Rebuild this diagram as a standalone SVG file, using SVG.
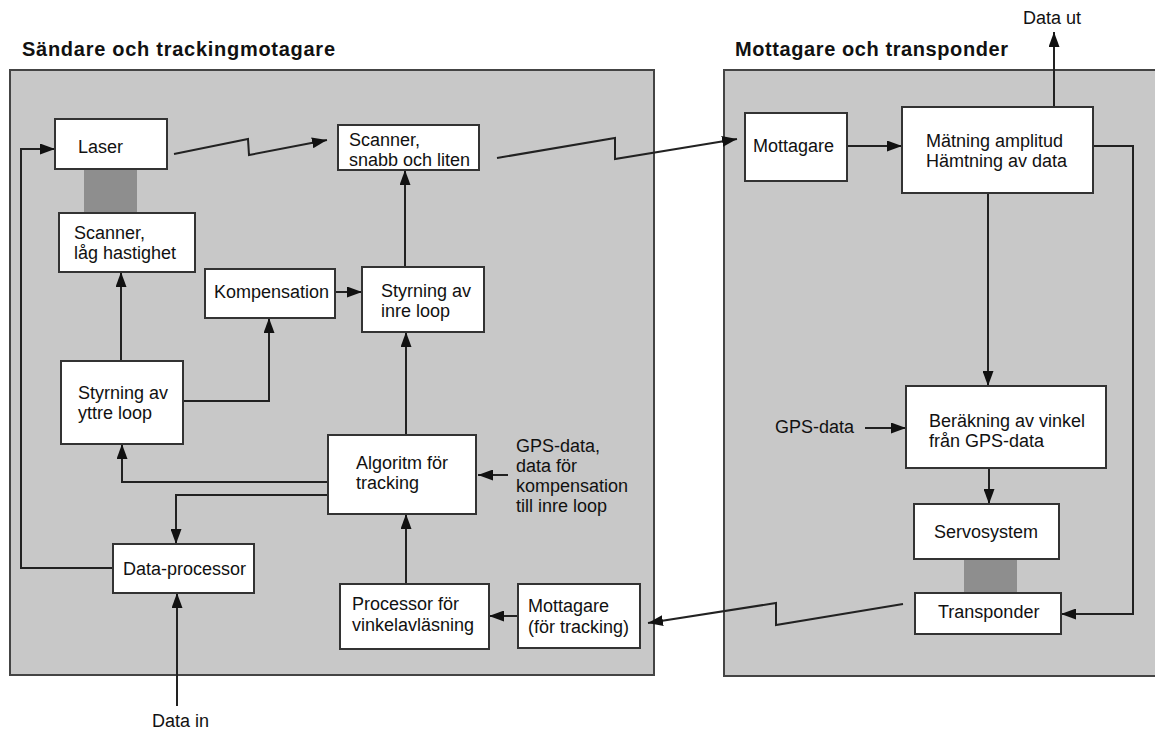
<svg xmlns="http://www.w3.org/2000/svg" width="1155" height="731" viewBox="0 0 1155 731">
<style>
.panel{fill:#c8c8c8;stroke:#444;stroke-width:2}
.box{fill:#fff;stroke:#333;stroke-width:2}
.bar{fill:#8e8e8e}
.t{font-family:"Liberation Sans",Arial,sans-serif;font-size:18px;fill:#111}
.h{font-family:"Liberation Sans",Arial,sans-serif;font-size:20px;font-weight:bold;fill:#111}
.c{fill:none;stroke:#222;stroke-width:2}
</style>
<defs>
<marker id="ah" markerUnits="userSpaceOnUse" markerWidth="15" markerHeight="11" refX="15" refY="5.5" orient="auto">
<path d="M0,0 L15,5.5 L0,11 z" fill="#111"/>
</marker>
</defs>
<rect width="1155" height="731" fill="#fff"/>
<g id="panel-left">
<rect class="panel" x="10" y="70" width="644" height="605"/>
<text class="h" x="22" y="56" textLength="313" lengthAdjust="spacing">Sändare och trackingmotagare</text>
</g>
<g id="panel-right">
<rect class="panel" x="724" y="70" width="440" height="606"/>
<text class="h" x="735" y="56" textLength="273" lengthAdjust="spacing">Mottagare och transponder</text>
</g>
<g id="bars">
<rect class="bar" x="84" y="170" width="53" height="43"/>
<rect class="bar" x="964" y="560" width="53" height="33"/>
</g>
<g id="connectors">
<polyline class="c" points="113,568 21,568 21,149 55,149" marker-end="url(#ah)"/>
<polyline class="c" points="121,361 121,272" marker-end="url(#ah)"/>
<polyline class="c" points="183,401 269,401 269,318" marker-end="url(#ah)"/>
<polyline class="c" points="335,292 362,292" marker-end="url(#ah)"/>
<polyline class="c" points="405,267 405,170" marker-end="url(#ah)"/>
<polyline class="c" points="406,435 406,332" marker-end="url(#ah)"/>
<polyline class="c" points="328,482 122,482 122,444" marker-end="url(#ah)"/>
<polyline class="c" points="328,495 176,495 176,544" marker-end="url(#ah)"/>
<polyline class="c" points="406,584 406,514" marker-end="url(#ah)"/>
<polyline class="c" points="518,616 489,616" marker-end="url(#ah)"/>
<polyline class="c" points="508,475 478,475" marker-end="url(#ah)"/>
<polyline class="c" points="177,706 177,593" marker-end="url(#ah)"/>
<polyline class="c" points="174,154 248,139 249,155 327,140" marker-end="url(#ah)"/>
<polyline class="c" points="497,158 615,138 615,159 737,139" marker-end="url(#ah)"/>
<polyline class="c" points="847,146 902,146" marker-end="url(#ah)"/>
<polyline class="c" points="1054,107 1054,32" marker-end="url(#ah)"/>
<polyline class="c" points="1093,146 1133,146 1133,614 1061,614" marker-end="url(#ah)"/>
<polyline class="c" points="988,193 988,386" marker-end="url(#ah)"/>
<polyline class="c" points="865,428 906,428" marker-end="url(#ah)"/>
<polyline class="c" points="989,468 989,504" marker-end="url(#ah)"/>
<polyline class="c" points="903,604 776,625 776,603 648,623" marker-end="url(#ah)"/>
</g>
<g id="laser"><rect class="box" x="55" y="119" width="112" height="50"/><text class="t" x="78" y="153">Laser</text></g>
<g id="scanner-lag"><rect class="box" x="59" y="213" width="136" height="59"/><text class="t" x="74" y="239">Scanner,</text><text class="t" x="74" y="259">låg hastighet</text></g>
<g id="kompensation"><rect class="box" x="205" y="269" width="130" height="49"/><text class="t" x="214" y="298">Kompensation</text></g>
<g id="styrning-inre"><rect class="box" x="362" y="267" width="122" height="65"/><text class="t" x="381" y="297">Styrning av</text><text class="t" x="381" y="317">inre loop</text></g>
<g id="scanner-snabb"><rect class="box" x="338" y="125" width="141" height="45"/><text class="t" x="349" y="146">Scanner,</text><text class="t" x="349" y="166">snabb och liten</text></g>
<g id="styrning-yttre"><rect class="box" x="61" y="361" width="122" height="83"/><text class="t" x="78" y="399">Styrning av</text><text class="t" x="78" y="419">yttre loop</text></g>
<g id="algoritm"><rect class="box" x="328" y="435" width="148" height="79"/><text class="t" x="356" y="469">Algoritm för</text><text class="t" x="356" y="489">tracking</text></g>
<g id="gps-label-left"><text class="t" x="516" y="452">GPS-data,</text><text class="t" x="516" y="472">data för</text><text class="t" x="516" y="492">kompensation</text><text class="t" x="516" y="512">till inre loop</text></g>
<g id="data-processor"><rect class="box" x="113" y="544" width="141" height="49"/><text class="t" x="123" y="575">Data-processor</text></g>
<g id="data-in"><text class="t" x="152" y="727">Data in</text></g>
<g id="processor"><rect class="box" x="340" y="584" width="149" height="65"/><text class="t" x="352" y="610">Processor för</text><text class="t" x="352" y="631">vinkelavläsning</text></g>
<g id="mottagare-tracking"><rect class="box" x="518" y="584" width="122" height="64"/><text class="t" x="528" y="612">Mottagare</text><text class="t" x="528" y="633">(för tracking)</text></g>
<g id="mottagare"><rect class="box" x="745" y="113" width="102" height="68"/><text class="t" x="753" y="152">Mottagare</text></g>
<g id="matning"><rect class="box" x="902" y="107" width="191" height="86"/><text class="t" x="926" y="147">Mätning amplitud</text><text class="t" x="926" y="167">Hämtning av data</text></g>
<g id="data-ut"><text class="t" x="1023" y="24">Data ut</text></g>
<g id="gps-label-right"><text class="t" x="775" y="433">GPS-data</text></g>
<g id="berakning"><rect class="box" x="906" y="386" width="200" height="82"/><text class="t" x="929" y="427">Beräkning av vinkel</text><text class="t" x="929" y="447">från GPS-data</text></g>
<g id="servosystem"><rect class="box" x="914" y="504" width="145" height="55"/><text class="t" x="934" y="538">Servosystem</text></g>
<g id="transponder"><rect class="box" x="915" y="593" width="146" height="41"/><text class="t" x="938" y="618">Transponder</text></g>
</svg>
